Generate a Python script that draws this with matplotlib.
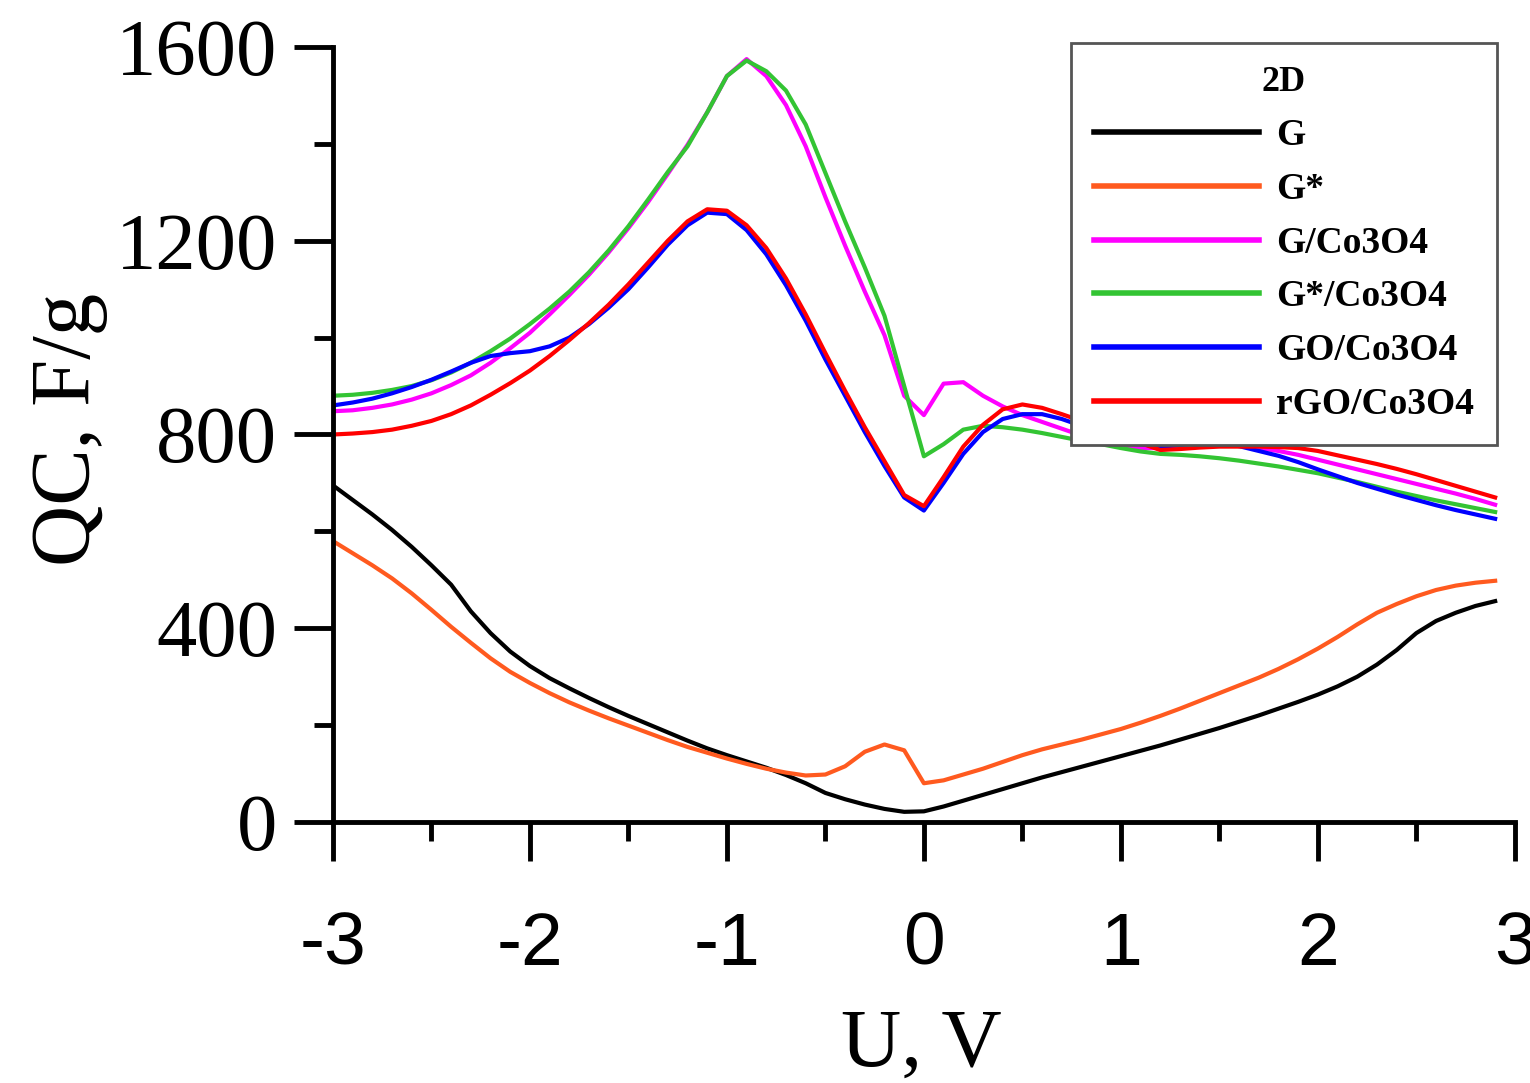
import numpy as np
import matplotlib
matplotlib.use("Agg")
import matplotlib.pyplot as plt
from matplotlib.ticker import MultipleLocator

plt.rcParams['axes.unicode_minus'] = False

# voltage grid, step 0.1 V
u = np.round(np.arange(-3.0, 2.95, 0.1), 1)

g = [695, 665, 635, 603, 568, 530, 490, 435, 390, 352,
     322, 297, 276, 256, 237, 219, 202, 185, 168, 152,
     138, 125, 112, 97, 80, 60, 47, 36, 27, 21,
     22, 32, 44, 56, 68, 80, 92, 103, 114, 125,
     136, 147, 158, 170, 182, 194, 207, 220, 234, 248,
     263, 280, 300, 325, 355, 390, 415, 432, 446, 456]

g_star = [580, 555, 530, 503, 472, 438, 403, 370, 338, 310,
          287, 266, 247, 230, 214, 199, 184, 169, 155, 143,
          131, 120, 110, 102, 96, 98, 115, 145, 160, 148,
          80, 86, 98, 110, 124, 138, 150, 160, 170, 181,
          192, 205, 219, 234, 250, 266, 282, 298, 316, 336,
          358, 382, 408, 432, 450, 466, 479, 488, 494, 498]

g_co = [848, 850, 855, 862, 872, 885, 902, 922, 948, 978,
        1010, 1048, 1088, 1130, 1176, 1226, 1280, 1338, 1398, 1465,
        1540, 1575, 1540, 1480, 1395, 1290, 1190, 1095, 1005, 880,
        840, 905, 908, 880, 858, 840, 826, 812, 798, 785,
        776, 772, 772, 778, 784, 784, 779, 772, 766, 758,
        748, 738, 728, 718, 708, 698, 688, 678, 667, 655]

gs_co = [880, 882, 886, 892, 900, 912, 928, 948, 972, 998,
         1028, 1060, 1095, 1135, 1180, 1230, 1285, 1342, 1395, 1465,
         1540, 1572, 1550, 1510, 1440, 1340, 1240, 1145, 1045, 900,
         755, 780, 810, 818, 815, 810, 803, 795, 787, 780,
         772, 765, 760, 758, 755, 751, 746, 740, 734, 727,
         720, 711, 702, 692, 682, 673, 664, 656, 648, 640]

go_co = [860, 866, 874, 885, 898, 913, 930, 948, 962, 968,
         972, 982, 1000, 1028, 1062, 1100, 1145, 1192, 1232, 1258,
         1255, 1222, 1172, 1108, 1035, 955, 880, 805, 735, 670,
         643, 700, 760, 805, 832, 842, 842, 832, 818, 804,
         790, 780, 775, 778, 782, 782, 776, 766, 756, 743,
         728, 714, 700, 688, 676, 665, 654, 644, 635, 626]

rgo_co = [800, 802, 805, 810, 818, 828, 842, 860, 882, 906,
          932, 962, 995, 1030, 1068, 1110, 1155, 1200, 1240, 1265,
          1262, 1232, 1185, 1122, 1048, 968, 890, 815, 745, 675,
          652, 712, 775, 820, 852, 862, 855, 842, 828, 814,
          800, 782, 768, 770, 773, 775, 775, 775, 774, 772,
          766, 757, 748, 739, 729, 718, 706, 694, 682, 670]

series = [g, g_star, g_co, gs_co, go_co, rgo_co]
labels = ['G', 'G*', 'G/Co3O4', 'G*/Co3O4', 'GO/Co3O4', 'rGO/Co3O4']
colors = ['black', '#ff5a1f', '#ff00ff', '#33c433', '#0000ff', '#ff0000']

serif = ['Liberation Serif', 'DejaVu Serif']
narrow = ['Liberation Sans Narrow', 'Liberation Sans', 'DejaVu Sans']

fig = plt.figure(figsize=(15.3, 10.83), dpi=100)
ax = fig.add_axes([0.2176, 0.241, 0.7725, 0.7156])

for y, lab, c in zip(series, labels, colors):
    ax.plot(u, y, color=c, lw=3, label=lab)

ax.set_xlim(-3, 3)
ax.set_ylim(0, 1600)
ax.xaxis.set_major_locator(MultipleLocator(1))
ax.xaxis.set_minor_locator(MultipleLocator(0.5))
ax.yaxis.set_major_locator(MultipleLocator(400))
ax.yaxis.set_minor_locator(MultipleLocator(200))

for s in ['top', 'right']:
    ax.spines[s].set_visible(False)
for s in ['left', 'bottom']:
    ax.spines[s].set_linewidth(3.5)

ax.tick_params(axis='both', which='major', direction='out', length=28, width=3.5)
ax.tick_params(axis='both', which='minor', direction='out', length=14, width=3.5)
ax.tick_params(axis='y', which='major', pad=12)
ax.tick_params(axis='x', which='major', pad=36)

for t in ax.get_yticklabels():
    t.set_fontfamily(serif)
    t.set_fontsize(58)
for t in ax.get_xticklabels():
    t.set_fontfamily(narrow)
    t.set_fontsize(54)

ax.set_ylabel('QC, F/g', fontsize=61, family=serif)
ax.yaxis.set_label_coords(-0.19, 0.506)
ax.set_xlabel('U, V', fontsize=60, family=serif)
ax.xaxis.set_label_coords(0.498, -0.24)
ax.xaxis.label.set_verticalalignment('top')

leg = ax.legend(loc='upper right', bbox_to_anchor=(0.985, 1.005),
                borderaxespad=0, title='2D', handlelength=4.4,
                handletextpad=0.45, labelspacing=0.5, borderpad=0.62,
                fancybox=False, framealpha=1, edgecolor='#555555',
                prop={'family': serif, 'size': 27, 'weight': 'bold'})
leg.get_title().set_fontfamily(serif)
leg.get_title().set_fontsize(26)
leg.get_title().set_fontweight('bold')
leg.get_frame().set_linewidth(2)
for h in leg.get_lines():
    h.set_linewidth(4)

fig.savefig('out.png', dpi=100)
